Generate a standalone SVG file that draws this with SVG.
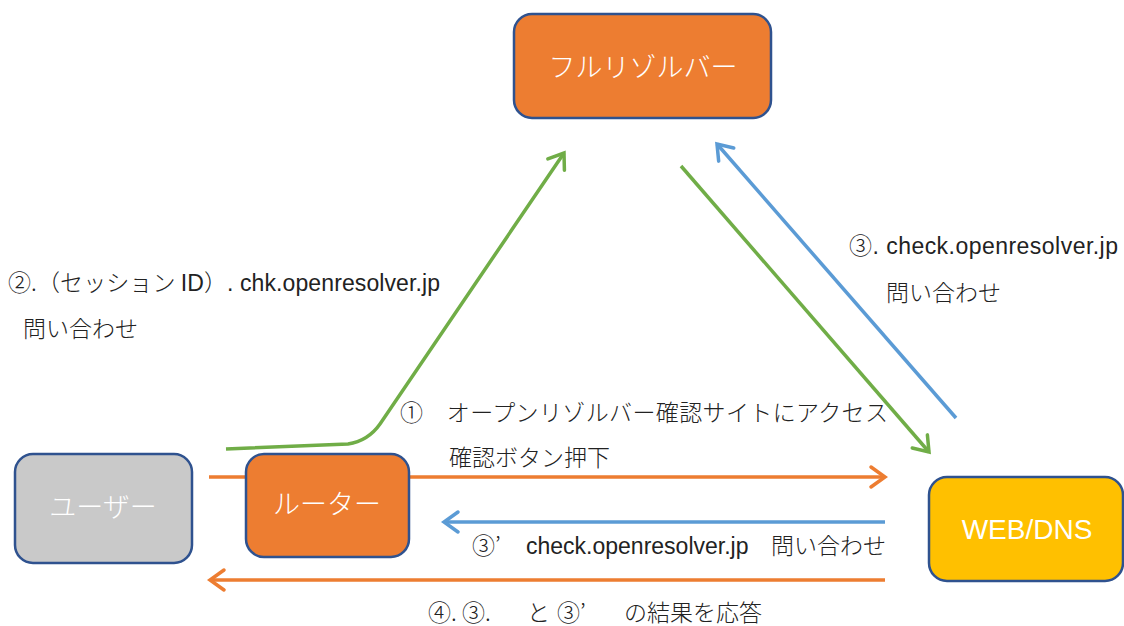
<svg xmlns="http://www.w3.org/2000/svg" width="1124" height="626" viewBox="0 0 1124 626">
<style>
.node{stroke:#2F528F;stroke-width:2.5}
.nt{fill:#fff;font-family:"Noto Sans CJK JP",sans-serif;font-size:27px;text-anchor:middle;font-weight:300}
.nl{fill:#fff;font-family:"Liberation Sans",sans-serif;font-size:28px;text-anchor:middle}
.lbl{fill:#222;font-family:"Liberation Sans","Noto Sans CJK JP",sans-serif;font-size:23px}
.jp{font-family:"Noto Sans CJK JP",sans-serif;font-weight:300}
.c{fill:none;stroke-width:3.5}
</style>
<defs>
<marker id="ao" markerUnits="userSpaceOnUse" markerWidth="30" markerHeight="30" viewBox="-20 -15 30 30" refX="0" refY="0" orient="auto"><path d="M-14,-10 L0,0 L-14,10" fill="none" stroke="#ED7D31" stroke-width="3.5" stroke-linecap="round"/></marker>
<marker id="ab" markerUnits="userSpaceOnUse" markerWidth="30" markerHeight="30" viewBox="-20 -15 30 30" refX="0" refY="0" orient="auto"><path d="M-14,-10 L0,0 L-14,10" fill="none" stroke="#5B9BD5" stroke-width="3.5" stroke-linecap="round"/></marker>
<marker id="ag" markerUnits="userSpaceOnUse" markerWidth="30" markerHeight="30" viewBox="-20 -15 30 30" refX="0" refY="0" orient="auto"><path d="M-14,-10 L0,0 L-14,10" fill="none" stroke="#70AD47" stroke-width="3.5" stroke-linecap="round"/></marker>
</defs>
<rect width="1124" height="626" fill="#fff"/>
<g id="connectors">
<line class="c" x1="209" y1="477" x2="885" y2="477" stroke="#ED7D31" marker-end="url(#ao)"/>
<line class="c" x1="885" y1="522" x2="444" y2="522" stroke="#5B9BD5" marker-end="url(#ab)"/>
<line class="c" x1="885" y1="580" x2="210" y2="580" stroke="#ED7D31" marker-end="url(#ao)"/>
<path class="c" d="M226,449 L348,444 Q368,441 380,424 L564,153" stroke="#70AD47" marker-end="url(#ag)"/>
<line class="c" x1="681" y1="166" x2="929" y2="452" stroke="#70AD47" marker-end="url(#ag)"/>
<line class="c" x1="956" y1="418" x2="717" y2="144" stroke="#5B9BD5" marker-end="url(#ab)"/>
</g>
<g id="fullresolver"><rect class="node" x="514" y="14" width="257" height="104" rx="18" fill="#ED7D31"/><text class="nt" x="643" y="77">フルリゾルバー</text></g>
<g id="user"><rect class="node" x="15" y="454" width="177" height="109" rx="18" fill="#C9C9C9"/><text class="nt" x="103" y="517">ユーザー</text></g>
<g id="router"><rect class="node" x="246" y="454" width="163" height="103" rx="18" fill="#ED7D31"/><text class="nt" x="327" y="514">ルーター</text></g>
<g id="webdns"><rect class="node" x="929" y="477" width="194" height="104" rx="18" fill="#FFC000"/><text class="nl" x="1027" y="539">WEB/DNS</text></g>
<g id="labels">
<text class="lbl" x="8" y="291" textLength="432" lengthAdjust="spacing"><tspan class="jp">②.（セッション </tspan>ID<tspan class="jp">）</tspan>. chk.openresolver.jp</text>
<text class="lbl jp" x="23" y="337">問い合わせ</text>
<text class="lbl jp" x="400" y="421" textLength="488" lengthAdjust="spacing">①　オープンリゾルバー確認サイトにアクセス</text>
<text class="lbl jp" x="449" y="466">確認ボタン押下</text>
<text class="lbl" y="554"><tspan class="jp" x="472">③’</tspan><tspan x="526">check.openresolver.jp</tspan><tspan class="jp" x="771">問い合わせ</tspan></text>
<text class="lbl jp" y="621"><tspan x="428">④.</tspan><tspan x="462">③.</tspan><tspan x="527">と</tspan><tspan x="557">③’</tspan><tspan x="624">の結果を応答</tspan></text>
<text class="lbl" x="849" y="254" textLength="269" lengthAdjust="spacing"><tspan class="jp">③</tspan>. check.openresolver.jp</text>
<text class="lbl jp" x="886" y="301">問い合わせ</text>
</g>
</svg>
